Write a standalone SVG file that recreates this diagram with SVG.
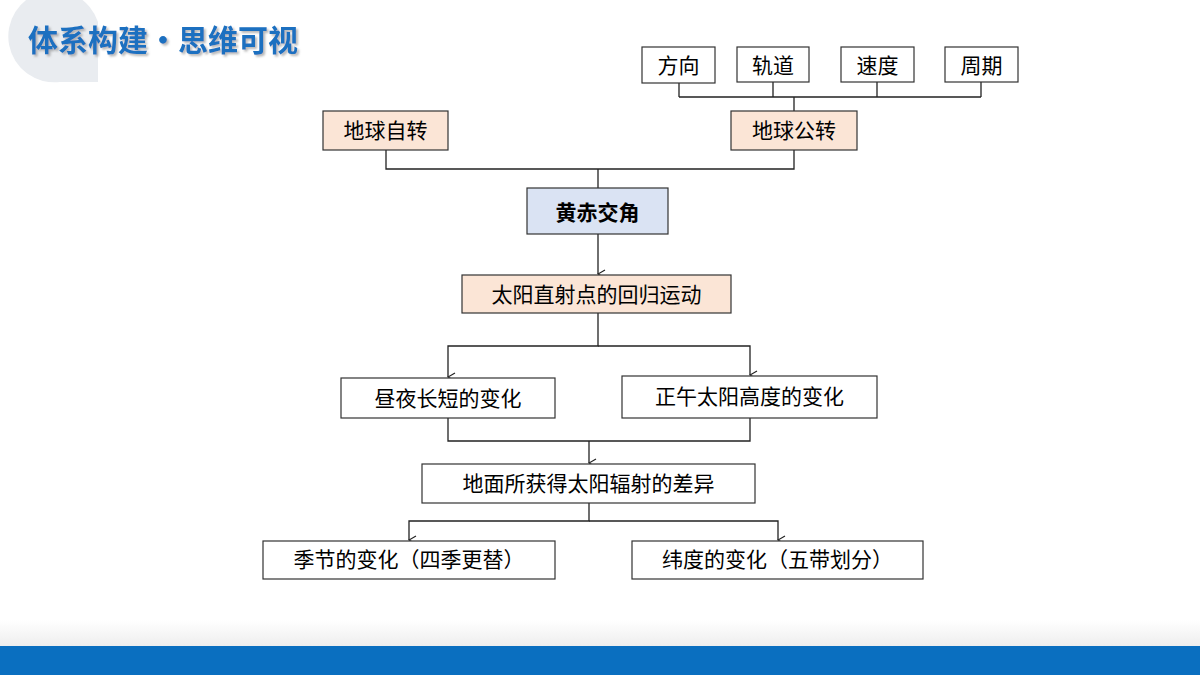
<svg xmlns="http://www.w3.org/2000/svg" width="1200" height="675" viewBox="0 0 1200 675">
<defs>
<style>
.b{fill:#fff;stroke:#333;stroke-width:1.2}
.p{fill:#fbe5d6;stroke:#333;stroke-width:1.2}
.t{font-family:"Noto Sans CJK SC","Noto Sans",sans-serif;font-size:21px;fill:#000;text-anchor:middle}
.c{fill:none;stroke:#222;stroke-width:1.3}
</style>
<marker id="a" markerWidth="10" markerHeight="10" refX="5" refY="9" orient="auto" markerUnits="userSpaceOnUse" viewBox="0 0 10 10"><path d="M1,2 L5,9 L9,2" fill="none" stroke="#222" stroke-width="1.2"/></marker>
<linearGradient id="g" x1="0" y1="0" x2="0" y2="1"><stop offset="0" stop-color="#fff"/><stop offset="1" stop-color="#eeeeee"/></linearGradient>
<filter id="s"><feDropShadow dx="2" dy="2" stdDeviation="1" flood-color="#888" flood-opacity="0.6"/></filter>
</defs>
<rect width="1200" height="675" fill="#fff"/>
<rect x="0" y="620" width="1200" height="26" fill="url(#g)"/>
<rect x="0" y="646" width="1200" height="29" fill="#0a6fc0"/>
<path d="M98,82 L60,82 A46,46 0 1 1 98,22 Z" fill="#e9ecf0"/>
<text x="28" y="51" font-family="Noto Sans CJK SC,sans-serif" font-weight="bold" font-size="30" fill="#1a6fc0" filter="url(#s)">体系构建・思维可视</text>
<g id="connectors" class="c">
<path d="M679,83 V97 M773,82 V97 M877,82 V97 M981,82 V97 M679,97 H981 M794,97 V111"/>
<path d="M386,150 V169 H794 V150 M598,169 V188"/>
<path d="M598,234 V274" marker-end="url(#a)"/>
<path d="M598,313 V346 H448 V377" marker-end="url(#a)"/>
<path d="M598,346 H750 V375" marker-end="url(#a)"/>
<path d="M448,418 V441 H750 V418"/>
<path d="M589,441 V463" marker-end="url(#a)"/>
<path d="M589,503 V521 H409 V540" marker-end="url(#a)"/>
<path d="M589,521 H778 V540" marker-end="url(#a)"/>
</g>
<g id="n1"><rect class="b" x="642" y="47" width="73" height="36"/><text class="t" x="678.5" y="73">方向</text></g>
<g id="n2"><rect class="b" x="737" y="47" width="72" height="35"/><text class="t" x="773" y="73">轨道</text></g>
<g id="n3"><rect class="b" x="841" y="47" width="73" height="35"/><text class="t" x="877.5" y="73">速度</text></g>
<g id="n4"><rect class="b" x="945" y="47" width="73" height="35"/><text class="t" x="981.5" y="73">周期</text></g>
<g id="n5"><rect class="p" x="323" y="111" width="125" height="39"/><text class="t" x="385.5" y="138">地球自转</text></g>
<g id="n6"><rect class="p" x="731" y="111" width="126" height="39"/><text class="t" x="794" y="138">地球公转</text></g>
<g id="n7"><rect x="527" y="188" width="141" height="46" fill="#dae3f3" stroke="#333" stroke-width="1.2"/><text class="t" x="597.5" y="220" font-size="26" font-weight="bold">黄赤交角</text></g>
<g id="n8"><rect class="p" x="462" y="275" width="269" height="38"/><text class="t" x="596.5" y="302">太阳直射点的回归运动</text></g>
<g id="n9"><rect class="b" x="341" y="378" width="214" height="40"/><text class="t" x="448" y="406">昼夜长短的变化</text></g>
<g id="n10"><rect class="b" x="622" y="376" width="255" height="42"/><text class="t" x="749.5" y="404">正午太阳高度的变化</text></g>
<g id="n11"><rect class="b" x="422" y="464" width="333" height="39"/><text class="t" x="588.5" y="491">地面所获得太阳辐射的差异</text></g>
<g id="n12"><rect class="b" x="263" y="541" width="292" height="38"/><text class="t" x="409" y="567">季节的变化（四季更替）</text></g>
<g id="n13"><rect class="b" x="632" y="541" width="291" height="38"/><text class="t" x="777.5" y="567">纬度的变化（五带划分）</text></g>
</svg>
